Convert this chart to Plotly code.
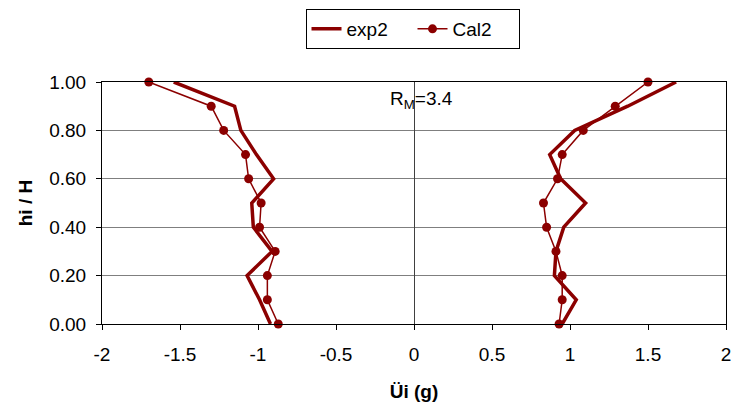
import plotly.graph_objects as go

levels = [1.0, 0.9, 0.8, 0.7, 0.6, 0.5, 0.4, 0.3, 0.2, 0.1, 0.0]

exp2_left = [-1.54, -1.15, -1.11, -1.01, -0.90, -1.04, -1.03, -0.91, -1.07, -0.99, -0.92]
exp2_right = [1.68, 1.37, 1.03, 0.87, 0.94, 1.10, 0.96, 0.91, 0.90, 1.04, 0.95]
cal2_left = [-1.70, -1.30, -1.22, -1.08, -1.06, -0.98, -0.99, -0.89, -0.94, -0.94, -0.87]
cal2_right = [1.50, 1.29, 1.085, 0.95, 0.92, 0.83, 0.85, 0.91, 0.95, 0.95, 0.93]

x_ticks = [-2, -1.5, -1, -0.5, 0, 0.5, 1, 1.5, 2]
x_tick_labels = ["-2", "-1.5", "-1", "-0.5", "0", "0.5", "1", "1.5", "2"]
y_ticks = [0.0, 0.2, 0.4, 0.6, 0.8, 1.0]
y_tick_labels = ["0.00", "0.20", "0.40", "0.60", "0.80", "1.00"]

color = "#8B0000"
font_family = "Liberation Sans, Arial, sans-serif"
fs = 19

fig = go.Figure()
fig.add_trace(go.Scatter(
    x=exp2_left + [None] + exp2_right,
    y=levels + [None] + levels,
    mode="lines", name="exp2",
    line=dict(color=color, width=3.5),
    connectgaps=False, cliponaxis=False,
))
fig.add_trace(go.Scatter(
    x=cal2_left + [None] + cal2_right,
    y=levels + [None] + levels,
    mode="lines+markers", name="Cal2",
    line=dict(color=color, width=1.5),
    marker=dict(color=color, size=9),
    connectgaps=False, cliponaxis=False,
))

fig.add_annotation(
    x=-0.167, y=0.927, xref="x", yref="y",
    text="R<sub>M</sub>=3.4", showarrow=False,
    xanchor="left", yanchor="middle",
    font=dict(size=fs, color="black", family=font_family),
)

fig.update_layout(
    width=734, height=409,
    margin=dict(l=102, r=8, t=82, b=85),
    paper_bgcolor="white", plot_bgcolor="white",
    font=dict(family=font_family, size=fs, color="black"),
    legend=dict(
        orientation="h", x=0.4976, xanchor="center", y=1.3017, yanchor="top",
        bordercolor="black", borderwidth=1, bgcolor="white",
        font=dict(size=fs), itemwidth=30, entrywidth=61,
    ),
    xaxis=dict(
        range=[-2, 2], tickvals=x_ticks, ticktext=x_tick_labels,
        showgrid=False, zeroline=True, zerolinecolor="#404040", zerolinewidth=1,
        showline=True, linecolor="black", linewidth=1, mirror=True,
        ticks="outside", ticklen=5, tickcolor="black", ticklabelstandoff=8,
        automargin=False,
        title=dict(text="<b>Üi (g)</b>", font=dict(size=fs), standoff=20),
    ),
    yaxis=dict(
        range=[0, 1], tickvals=y_ticks, ticktext=y_tick_labels,
        showgrid=True, gridcolor="#7f7f7f", gridwidth=1, zeroline=False,
        showline=True, linecolor="black", linewidth=1, mirror=True,
        ticks="outside", ticklen=5, tickcolor="black", ticklabelstandoff=6,
        automargin=False,
        title=dict(text="<b>hi / H</b>", font=dict(size=fs), standoff=11),
    ),
)

fig.write_html(
    "out.html",
    config={"displayModeBar": False},
    post_script="document.body.style.margin='0';document.body.style.overflow='hidden';",
)
